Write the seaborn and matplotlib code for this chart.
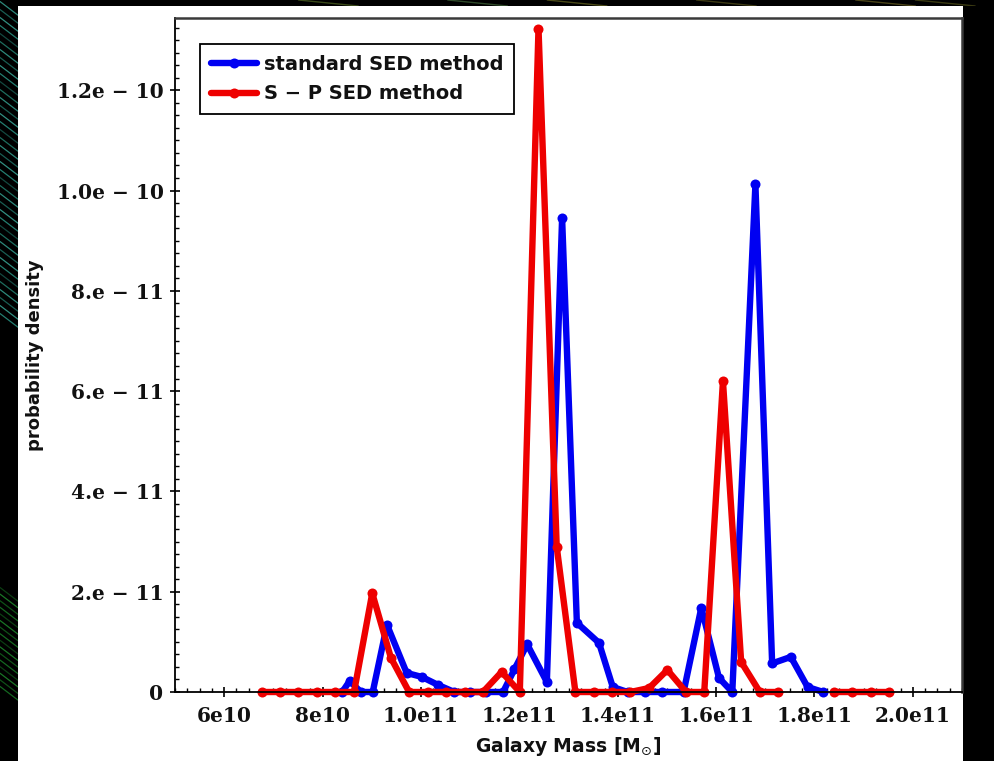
import matplotlib
matplotlib.use("Agg")
import matplotlib.pyplot as plt
import numpy as np
import pandas as pd
import seaborn as sns
from matplotlib.lines import Line2D
from matplotlib.patches import Rectangle
from matplotlib.ticker import FixedLocator, FixedFormatter, MultipleLocator

sns.set_style("white")
plt.rcParams["font.family"] = ["DejaVu Sans"]
plt.rcParams["mathtext.fontset"] = "dejavusans"

# ---- data: galaxy mass [M_sun] and probability density ----
std_mass = [8.40e10, 8.55e10, 8.78e10, 9.02e10, 9.31e10, 9.71e10, 10.02e10,
            10.35e10, 10.68e10, 11.00e10, 11.33e10, 11.67e10, 11.90e10,
            12.16e10, 12.56e10, 12.87e10, 13.17e10, 13.62e10, 13.90e10,
            14.20e10, 14.55e10, 14.90e10, 15.34e10, 15.70e10, 16.06e10,
            16.33e10, 16.80e10, 17.14e10, 17.52e10, 17.86e10, 18.18e10]
std_dens = [0.0, 0.22e-11, 0.0, 0.0, 1.34e-11, 0.38e-11, 0.30e-11,
            0.14e-11, 0.0, 0.0, 0.0, 0.0, 0.45e-11,
            0.95e-11, 0.20e-11, 9.45e-11, 1.38e-11, 0.98e-11, 0.10e-11,
            0.0, 0.0, 0.0, 0.0, 1.68e-11, 0.28e-11,
            0.0, 10.12e-11, 0.57e-11, 0.70e-11, 0.10e-11, 0.0]

# S-P method: two runs of the mass grid (no values in between)
sp_mass_a = [6.76e10, 7.14e10, 7.51e10, 7.89e10, 8.26e10, 8.64e10, 9.01e10,
             9.39e10, 9.76e10, 10.14e10, 10.51e10, 10.89e10, 11.26e10,
             11.64e10, 12.01e10, 12.39e10, 12.76e10, 13.14e10, 13.51e10,
             13.89e10, 14.26e10, 14.64e10, 15.01e10, 15.39e10, 15.76e10,
             16.14e10, 16.51e10, 16.89e10, 17.26e10]
sp_dens_a = [0.0, 0.0, 0.0, 0.0, 0.0, 0.0, 1.97e-11,
             0.68e-11, 0.0, 0.0, 0.0, 0.0, 0.0,
             0.40e-11, 0.0, 13.23e-11, 2.90e-11, 0.0, 0.0,
             0.0, 0.0, 0.08e-11, 0.44e-11, 0.0, 0.0,
             6.20e-11, 0.60e-11, 0.0, 0.0]
sp_mass_b = [18.39e10, 18.76e10, 19.14e10, 19.51e10]
sp_dens_b = [0.0, 0.0, 0.0, 0.0]

series_names = ["standard SED method", "S \u2212 P SED method"]
series_colors = ["#0000f2", "#ee0000"]

x_ticks = [6e10, 8e10, 1.0e11, 1.2e11, 1.4e11, 1.6e11, 1.8e11, 2.0e11]
x_labels = ["6e10", "8e10", "1.0e11", "1.2e11", "1.4e11", "1.6e11", "1.8e11", "2.0e11"]
y_ticks = [0, 2e-11, 4e-11, 6e-11, 8e-11, 1.0e-10, 1.2e-10]
y_labels = ["0", "2.e \u2212 11", "4.e \u2212 11", "6.e \u2212 11", "8.e \u2212 11",
            "1.0e \u2212 10", "1.2e \u2212 10"]

W, H = 995, 761
fig = plt.figure(figsize=(W / 100, H / 100), dpi=100, facecolor="black")

# white page behind the chart
fig.add_artist(Rectangle((18 / W, 0), (963 - 18) / W, (H - 6) / H,
                         transform=fig.transFigure, facecolor="white",
                         edgecolor="none", zorder=-10))

# faint streaks in the dark margins
left = fig.add_axes([0, 0, 18 / W, 1], zorder=-20)
left.set_facecolor("black")
left.set_xlim(0, 1)
left.set_ylim(0, 1)
left.axis("off")
teal = ["#2a9484", "#3aa898", "#1e6e62", "#35a090", "#23806f", "#17564c"]
for i, y0 in enumerate(np.linspace(0.57, 0.98, 40)):
    left.plot([0, 1], [y0 + 0.018, y0], color=teal[i % len(teal)], alpha=0.85, lw=0.9)
greens = ["#187a26", "#12601c", "#1e8a2c", "#0e4a16"]
for i, y0 in enumerate(np.linspace(0.08, 0.21, 16)):
    left.plot([0, 1], [y0 + 0.018, y0], color=greens[i % len(greens)], alpha=0.85, lw=0.9)

top = fig.add_axes([0, (H - 6) / H, 1, 6 / H], zorder=-20)
top.set_facecolor("black")
top.set_xlim(0, 1)
top.set_ylim(0, 1)
top.axis("off")
for x0, c in [(0.30, "#3a4a1a"), (0.45, "#2f4a2a"), (0.55, "#4a4a18"), (0.70, "#3d3a14"),
              (0.86, "#4a4418"), (0.92, "#3a3a12")]:
    top.plot([x0, x0 + 0.06], [1, 0], color=c, lw=1.0)

ax = fig.add_axes([175 / W, (H - 692) / H, (962 - 175) / W, (692 - 18) / H])
ax.set_facecolor("white")

line_kw = dict(linewidth=4.6, marker="o", markersize=7.2, markeredgewidth=0,
               estimator=None, sort=False, legend=False)
sns.lineplot(x=std_mass, y=std_dens, color=series_colors[0], ax=ax, **line_kw)
sns.lineplot(x=sp_mass_a, y=sp_dens_a, color=series_colors[1], ax=ax, **line_kw)
sns.lineplot(x=sp_mass_b, y=sp_dens_b, color=series_colors[1], ax=ax, **line_kw)
for ln in ax.lines:
    ln.set_solid_joinstyle("round")
    ln.set_solid_capstyle("round")
    ln.set_clip_on(False)

ax.set_xlim(5e10, 2.1e11)
ax.set_ylim(0, 1.344e-10)

ax.xaxis.set_major_locator(FixedLocator(x_ticks))
ax.xaxis.set_major_formatter(FixedFormatter(x_labels))
ax.xaxis.set_minor_locator(MultipleLocator(2.5e9))
ax.yaxis.set_major_locator(FixedLocator(y_ticks))
ax.yaxis.set_major_formatter(FixedFormatter(y_labels))
ax.yaxis.set_minor_locator(MultipleLocator(2.5e-12))

for lab in ax.get_xticklabels() + ax.get_yticklabels():
    lab.set_fontfamily("DejaVu Serif")
    lab.set_fontweight("bold")
    lab.set_fontsize(14.5)
    lab.set_color("#111111")

ax.tick_params(which="major", direction="inout", length=6.5, width=1.2,
               color="black", bottom=True, left=True, top=False, right=False)
ax.tick_params(which="minor", direction="in", length=3.2, width=1.0,
               color="black", bottom=True, left=True, top=False, right=False)
ax.tick_params(axis="y", which="major", pad=5)
ax.tick_params(axis="x", which="major", pad=6.5)

for side in ["left", "bottom"]:
    ax.spines[side].set_color("black")
    ax.spines[side].set_linewidth(1.3)
for side in ["top", "right"]:
    ax.spines[side].set_color("#3a3a3a")
    ax.spines[side].set_linewidth(1.8)
for s in ax.spines.values():
    s.set_visible(True)

ax.set_xlabel("Galaxy Mass [M$_{\\odot}$]", fontsize=13.5, fontweight="bold",
              color="#111111")
ax.set_ylabel("probability density", fontsize=13, fontweight="bold",
              color="#111111")
ax.xaxis.set_label_coords(0.5, -(735 - 692) / (692 - 18))
ax.yaxis.set_label_coords(-(175 - 44) / (962 - 175), 0.5)

handles = [Line2D([], [], color=c, lw=4.6, marker="o", markersize=7.2,
                  markeredgewidth=0) for c in series_colors]
leg = ax.legend(handles, series_names, loc="upper left",
                bbox_to_anchor=((200 - 175) / (962 - 175), (692 - 44) / (692 - 18)),
                borderaxespad=0, frameon=True, fancybox=False, numpoints=1,
                handlelength=2.37, handletextpad=0.36,
                borderpad=0.55, labelspacing=0.55,
                prop=dict(weight="bold", size=14))
leg.get_frame().set_edgecolor("black")
leg.get_frame().set_linewidth(1.3)
leg.get_frame().set_alpha(1)
for t in leg.get_texts():
    t.set_color("#111111")

fig.savefig("out.png", dpi=100, facecolor=fig.get_facecolor())
